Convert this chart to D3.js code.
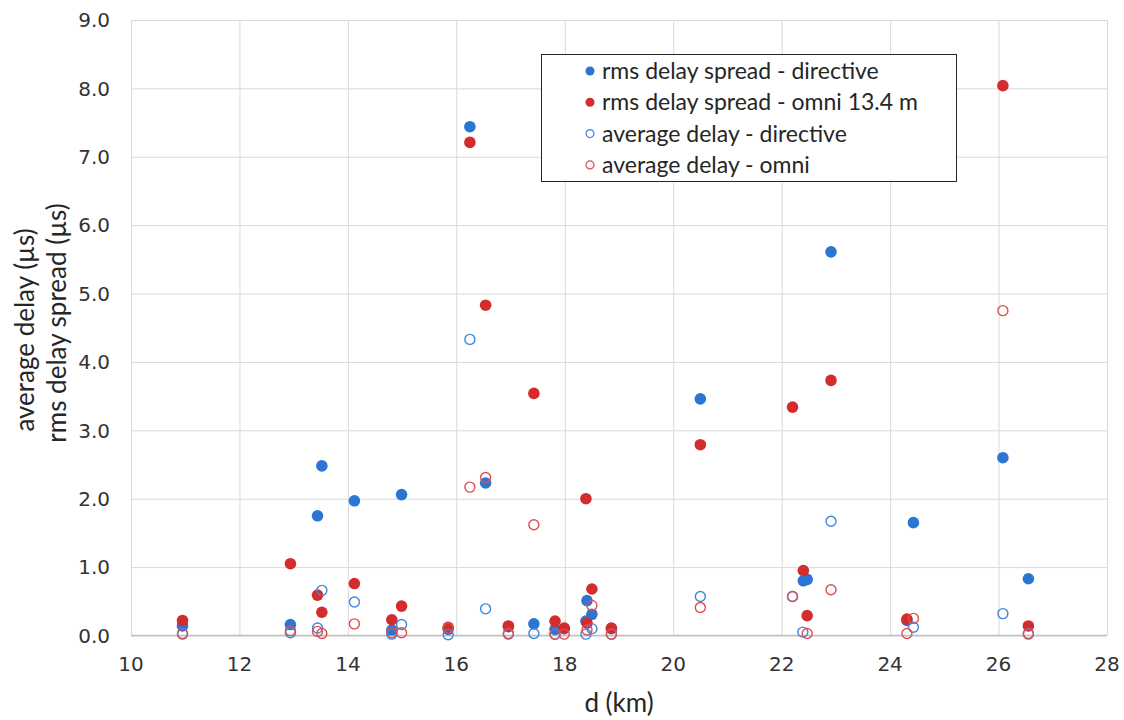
<!DOCTYPE html>
<meta charset="utf-8">
<head>
<style>
body { margin: 0; background: #fff; }
text { font-family: Lato, "Open Sans", sans-serif; fill: #262626; }
.grid line { stroke: #d9d9d9; stroke-width: 1px; }
.grid path { display: none; }
.tick-lbl { font-family: "DejaVu Sans", sans-serif; font-size: 20px; fill: #333; }
.axis-title { font-size: 26px; }
.legend text { font-size: 23px; }
</style>
<title>Delay spread vs distance</title>
</head>
<body>
<svg id="chart" width="1124" height="720"></svg>
<script src="https://d3js.org/d3.v7.min.js"></script>
<script>
// ticks
var xTicks = [10, 12, 14, 16, 18, 20, 22, 24, 26, 28];
var yTicks = [0, 1, 2, 3, 4, 5, 6, 7, 8, 9];

// rms delay spread - directive (filled blue)
var rmsDirKm = [10.95, 12.94, 13.44, 13.52, 14.12, 14.81, 14.99, 15.85, 16.25, 16.54, 16.96, 17.43, 17.82, 17.99, 18.39, 18.41, 18.5, 18.86, 20.5, 22.4, 22.47, 22.91, 24.31, 24.43, 26.08, 26.55];
var rmsDirUs = [0.14, 0.16, 1.75, 2.48, 1.97, 0.08, 2.06, 0.09, 7.44, 2.23, 0.13, 0.17, 0.09, 0.10, 0.21, 0.51, 0.31, 0.10, 3.46, 0.80, 0.82, 5.61, 0.22, 1.65, 2.60, 0.83];

// rms delay spread - omni 13.4 m (filled red)
var rmsOmniKm = [10.95, 12.94, 13.44, 13.52, 14.12, 14.81, 14.99, 15.85, 16.25, 16.54, 16.96, 17.43, 17.82, 17.99, 18.39, 18.41, 18.5, 18.86, 20.5, 22.2, 22.4, 22.47, 22.91, 24.31, 26.08, 26.55];
var rmsOmniUs = [0.22, 1.05, 0.59, 0.34, 0.76, 0.23, 0.43, 0.12, 7.21, 4.83, 0.14, 3.54, 0.21, 0.11, 2.00, 0.18, 0.68, 0.11, 2.79, 3.34, 0.95, 0.29, 3.73, 0.24, 8.04, 0.14];

// average delay - directive (open blue)
var avgDirKm = [10.95, 12.94, 13.44, 13.52, 14.12, 14.81, 14.99, 15.85, 16.25, 16.54, 16.96, 17.43, 17.82, 18.39, 18.5, 18.86, 20.5, 22.2, 22.39, 22.91, 24.43, 26.08, 26.55];
var avgDirUs = [0.03, 0.04, 0.11, 0.66, 0.49, 0.02, 0.16, 0.01, 4.33, 0.39, 0.02, 0.03, 0.02, 0.02, 0.10, 0.02, 0.57, 0.57, 0.05, 1.67, 0.12, 0.32, 0.03];

// average delay - omni (open red)
var avgOmniKm = [10.95, 12.94, 13.44, 13.52, 14.12, 14.81, 14.99, 15.85, 16.25, 16.54, 16.96, 17.43, 17.82, 17.99, 18.41, 18.5, 18.86, 20.5, 22.2, 22.47, 22.91, 24.31, 24.43, 26.08, 26.55];
var avgOmniUs = [0.02, 0.07, 0.06, 0.03, 0.17, 0.04, 0.04, 0.11, 2.17, 2.31, 0.03, 1.62, 0.02, 0.02, 0.08, 0.44, 0.02, 0.41, 0.57, 0.03, 0.67, 0.03, 0.25, 4.75, 0.02];

var legendLabels = ["rms delay spread - directive", "rms delay spread - omni 13.4 m", "average delay - directive", "average delay - omni"];

var blue = "#2a76d2", red = "#d42c2c", blueRing = "#3d88de", redRing = "#de4f4f";

var svg = d3.select("#chart");
var plotLeft = 131, plotRight = 1107, plotTop = 20, plotBottom = 635.5;

var x = d3.scaleLinear().domain([10, 28]).range([plotLeft, plotRight]);
var y = d3.scaleLinear().domain([0, 9]).range([plotBottom, plotTop]);

// gridlines
svg.append("g").attr("class", "grid")
    .attr("transform", "translate(0," + plotBottom + ")")
    .call(d3.axisBottom(x).tickValues(xTicks).tickSize(-(plotBottom - plotTop)).tickFormat(""));
svg.append("g").attr("class", "grid")
    .attr("transform", "translate(" + plotLeft + ",0)")
    .call(d3.axisLeft(y).tickValues(yTicks).tickSize(-(plotRight - plotLeft)).tickFormat(""));

// bottom axis line
svg.append("line")
    .attr("x1", plotLeft).attr("x2", plotRight)
    .attr("y1", plotBottom).attr("y2", plotBottom)
    .attr("stroke", "#bfbfbf").attr("stroke-width", 1.5);

// tick labels
svg.append("g").selectAll("text")
  .data(yTicks).enter().append("text")
    .attr("class", "tick-lbl")
    .attr("x", 110)
    .attr("y", function(d) { return y(d); })
    .attr("dy", "0.36em")
    .attr("text-anchor", "end")
    .text(function(d) { return d3.format(".1f")(d); });

svg.append("g").selectAll("text")
  .data(xTicks).enter().append("text")
    .attr("class", "tick-lbl")
    .attr("x", function(d) { return x(d); })
    .attr("y", 671)
    .attr("text-anchor", "middle")
    .text(function(d) { return d; });

// axis titles
svg.append("text").attr("class", "axis-title")
    .attr("x", 619).attr("y", 712)
    .attr("text-anchor", "middle")
    .text("d (km)");

svg.append("text").attr("class", "axis-title")
    .attr("transform", "translate(34,330) rotate(-90)")
    .attr("text-anchor", "middle")
    .text("average delay (µs)");
svg.append("text").attr("class", "axis-title")
    .attr("transform", "translate(66,323) rotate(-90)")
    .attr("text-anchor", "middle")
    .text("rms delay spread (µs)");

// markers, drawn in series order
function filled(km, us, col) {
  svg.append("g").selectAll("circle")
    .data(d3.zip(km, us)).enter().append("circle")
      .attr("cx", function(d) { return x(d[0]); })
      .attr("cy", function(d) { return y(d[1]); })
      .attr("r", 5.8)
      .attr("fill", col);
}
function ring(km, us, col) {
  svg.append("g").selectAll("circle")
    .data(d3.zip(km, us)).enter().append("circle")
      .attr("cx", function(d) { return x(d[0]); })
      .attr("cy", function(d) { return y(d[1]); })
      .attr("r", 5)
      .attr("fill", "none")
      .attr("stroke", col)
      .attr("stroke-width", 1.4);
}
filled(rmsDirKm, rmsDirUs, blue);
filled(rmsOmniKm, rmsOmniUs, red);
ring(avgDirKm, avgDirUs, blueRing);
ring(avgOmniKm, avgOmniUs, redRing);

// legend
var legend = svg.append("g").attr("class", "legend");
legend.append("rect")
    .attr("x", 541.5).attr("y", 54.5)
    .attr("width", 415).attr("height", 127)
    .attr("fill", "#fff").attr("stroke", "#262626").attr("stroke-width", 1);

var items = legend.selectAll("g.item")
  .data(legendLabels).enter().append("g")
    .attr("class", "item")
    .attr("transform", function(d, i) { return "translate(590," + (71 + i * 31.3) + ")"; });

items.append("circle")
    .attr("r", function(d, i) { return i < 2 ? 4.5 : 4; })
    .attr("fill", function(d, i) { return i == 0 ? blue : i == 1 ? red : "#fff"; })
    .attr("stroke", function(d, i) { return i == 0 ? "none" : i == 1 ? "none" : i == 2 ? blueRing : redRing; })
    .attr("stroke-width", 1.2);

items.append("text")
    .attr("x", 12)
    .attr("dy", "0.35em")
    .text(function(d) { return d; });
</script>
</body>
